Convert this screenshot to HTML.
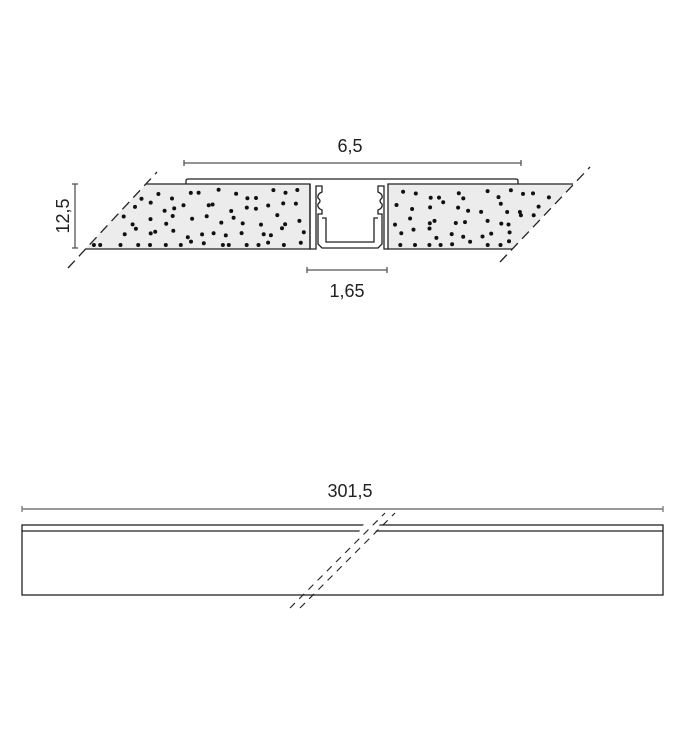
<!DOCTYPE html>
<html><head><meta charset="utf-8"><style>
html,body{margin:0;padding:0;background:#fff;}
svg{display:block;}
text{font-family:"Liberation Sans",sans-serif;fill:#222;}
</style></head><body>
<svg id="s" width="684" height="745" viewBox="0 0 684 745" xmlns="http://www.w3.org/2000/svg">
<!-- board fills -->
<polygon points="146,184 310,184 310,249 85,249" fill="#ececec"/>
<polygon points="388,184 573,184 512,249 388,249" fill="#ececec"/>
<g stroke="#222" stroke-width="1.3" fill="none">
  <!-- 6,5 dimension -->
  <line x1="184" y1="163" x2="521" y2="163" stroke="#555"/>
  <line x1="184" y1="160" x2="184" y2="166" stroke="#555"/>
  <line x1="521" y1="160" x2="521" y2="166" stroke="#555"/>
  <!-- 12,5 -->
  <line x1="75" y1="184" x2="75" y2="248" stroke="#555"/>
  <line x1="72" y1="184" x2="78" y2="184" stroke="#555"/>
  <line x1="72" y1="248" x2="78" y2="248" stroke="#555"/>
  <!-- 1,65 -->
  <line x1="307" y1="270" x2="387" y2="270" stroke="#555"/>
  <line x1="307" y1="267" x2="307" y2="273" stroke="#555"/>
  <line x1="387" y1="267" x2="387" y2="273" stroke="#555"/>
  <!-- board edges (no slanted stroke) -->
  <polyline points="146,184 310,184 310,249 85,249"/>
  <polyline points="573,184 388,184 388,249 512,249"/>
  <!-- flange -->
  <path d="M186,184 L186,181 Q186,179 188,179 L516,179 Q518,179 518,181 L518,184"/>
  <!-- profile -->
  <path d="M310,184 L310,249 L316,249 L316,186 L322,186 L322,192 Q317,194 318,198 Q322,201 318,204 Q317,208 322,210 L322,214 L318,214 L318,244 L322,248 L378,248 L382,244 L382,214 L378,214 L378,210 Q383,208 382,204 Q378,201 382,198 Q383,194 378,192 L378,186 L384,186 L384,249 L388,249"/>
  <path d="M322,218 L326,218 L326,242 L374,242 L374,218 L378,218"/>
  <!-- dashed break lines top -->
  <line x1="68" y1="268" x2="157" y2="172" stroke-dasharray="10,6"/>
  <line x1="500" y1="262" x2="590" y2="167" stroke-dasharray="10,6"/>
  <!-- bottom -->
  <line x1="22" y1="509" x2="663" y2="509" stroke="#777" stroke-width="1.6"/>
  <line x1="22" y1="506" x2="22" y2="512" stroke="#777"/>
  <line x1="663" y1="506" x2="663" y2="512" stroke="#777"/>
  <rect x="22" y="525" width="641" height="70"/>
  <line x1="22" y1="531" x2="663" y2="531"/>
</g>
<!-- gaps in flange lines at break -->
<polygon points="364,524 380,524 375,532 359,532" fill="#fff"/>
<polygon points="228,594 240,594 236,596 224,596" fill="#fff" opacity="0"/>
<g stroke="#222" stroke-width="1.1" stroke-dasharray="7,6" fill="none">
  <line x1="290" y1="608" x2="385" y2="513"/>
  <line x1="300" y1="608" x2="395" y2="513"/>
</g>
<g id="dots" fill="#111"></g>
<text x="350" y="152" font-size="18" text-anchor="middle">6,5</text>
<text x="347" y="297" font-size="18" text-anchor="middle">1,65</text>
<text x="350" y="497" font-size="18" text-anchor="middle">301,5</text>
<text transform="translate(69,216) rotate(-90)" font-size="18" text-anchor="middle">12,5</text>
</svg>
<script>
(function(){
var s=987;function r(){s=(s*1103515245+12345)%2147483648;return s/2147483648;}
var g=document.getElementById('dots'),ns='http://www.w3.org/2000/svg';
function grid(inside,x0,x1){for(var y=189;y<246;y+=13){for(var x=x0;x<x1;x+=14){var px=x+r()*12,py=y+r()*10;if(py>245)py=245;if(!inside(px,py))continue;var e=document.createElementNS(ns,'circle');e.setAttribute('cx',px.toFixed(1));e.setAttribute('cy',py.toFixed(1));e.setAttribute('r','2');g.appendChild(e);}}}
grid(function(x,y){var lx=146-(y-184)*61/65;return x>lx+5&&x<306;},85,306);
grid(function(x,y){var rx=573-(y-184)*61/65;return x>392&&x<rx-5;},392,573);
})();
</script>
</body></html>
